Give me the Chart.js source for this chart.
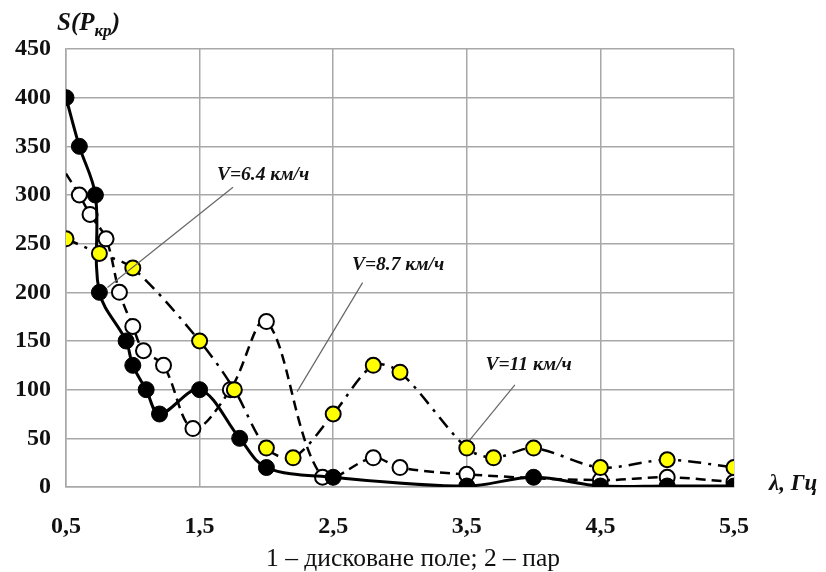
<!DOCTYPE html>
<html>
<head>
<meta charset="utf-8">
<script src="https://cdn.jsdelivr.net/npm/chart.js@4.4.0/dist/chart.umd.min.js"></script>
<style>
  body { margin: 0; background: #fff; }
  #wrap { position: relative; width: 826px; height: 572px; }
  .lbl { position: absolute; font-family: "Liberation Serif", serif; color: #111; white-space: nowrap; line-height: 1; }
</style>
</head>
<body>
<div id="wrap">
  <canvas id="chart"></canvas>
  <div class="lbl" style="left:57px; top:9px; font-size:25px; font-weight:bold; font-style:italic;">S(P<span style="font-size:17px; position:relative; top:6px;">кр</span>)</div>
  <div class="lbl" style="left:769px; top:471px; font-size:23px; font-weight:bold; font-style:italic;">λ, Гц</div>
  <div class="lbl" style="left:0; width:826px; text-align:center; top:545px; font-size:25.5px;">1 – дисковане поле; 2 – пар</div>
</div>
<script>
// 1 — black filled points, solid
const lambda1 = [0.5, 0.6, 0.72, 0.75, 0.95, 1.0, 1.1, 1.2, 1.5, 1.8, 2.0, 2.5, 3.5, 4.0, 4.5, 5.0, 5.5];
const s1 = [400, 350, 300, 200, 150, 125, 100, 75, 100, 50, 20, 10, 1, 10, 1, 1, 1];

// 2 — open points, dashed
const lambda2 = [0.5, 0.6, 0.68, 0.8, 0.9, 1.0, 1.08, 1.23, 1.45, 1.73, 2.0, 2.42, 2.8, 3.0, 3.5, 4.5, 5.0, 5.5];
const s2 = [322, 300, 280, 255, 200, 165, 140, 125, 60, 100, 170, 10, 30, 20, 13, 7, 10, 5];

// 3 — yellow points, dash-dot
const lambda3 = [0.5, 0.75, 1.0, 1.5, 1.76, 2.0, 2.2, 2.5, 2.8, 3.0, 3.5, 3.7, 4.0, 4.5, 5.0, 5.5];
const s3 = [255, 240, 225, 150, 100, 40, 30, 75, 125, 118, 40, 30, 40, 20, 28, 20];

const xTicks = [0.5, 1.5, 2.5, 3.5, 4.5, 5.5];
const yTicks = [0, 50, 100, 150, 200, 250, 300, 350, 400, 450];

// speed labels with leader lines (data coordinates)
const notes = [
  { text: "V=6.4 км/ч", tx: 1.63, ty: 321, from: [1.75, 308], to: [0.81, 205] },
  { text: "V=8.7 км/ч", tx: 2.64, ty: 228, from: [2.72, 210], to: [2.23, 98] },
  { text: "V=11 км/ч",  tx: 3.64, ty: 125, from: [3.86, 105], to: [3.52, 48] }
];

const pts = (xs, ys) => xs.map((x, i) => ({ x: x, y: ys[i] }));

const notePlugin = {
  id: "notes",
  afterDatasetsDraw(chart) {
    const { ctx, scales: { x, y } } = chart;
    ctx.save();
    notes.forEach(n => {
      ctx.strokeStyle = "#666";
      ctx.lineWidth = 1.2;
      ctx.beginPath();
      ctx.moveTo(x.getPixelForValue(n.from[0]), y.getPixelForValue(n.from[1]));
      ctx.lineTo(x.getPixelForValue(n.to[0]), y.getPixelForValue(n.to[1]));
      ctx.stroke();
      ctx.fillStyle = "#111";
      ctx.font = "bold italic 19.5px 'Liberation Serif'";
      ctx.textBaseline = "middle";
      ctx.textAlign = "left";
      ctx.fillText(n.text, x.getPixelForValue(n.tx), y.getPixelForValue(n.ty));
    });
    ctx.restore();
  }
};

const tickFont = { family: "'Liberation Serif'", size: 24, weight: "bold" };
const gridColor = "#a8a8a8";

new Chart(document.getElementById("chart"), {
  type: "line",
  data: {
    datasets: [
      {
        data: pts(lambda3, s3),
        borderColor: "#000",
        borderWidth: 2.5,
        borderDash: [13, 7, 3, 7],
        tension: 0.3,
        pointRadius: 7.5,
        pointBackgroundColor: "#ffff00",
        pointBorderColor: "#000",
        pointBorderWidth: 2
      },
      {
        data: pts(lambda1, s1),
        borderColor: "#000",
        borderWidth: 3,
        tension: 0.35,
        pointRadius: 8,
        pointBackgroundColor: "#000",
        pointBorderColor: "#000",
        pointBorderWidth: 1
      },
      {
        data: pts(lambda2, s2),
        borderColor: "#000",
        borderWidth: 2.5,
        borderDash: [10, 6],
        tension: 0.35,
        pointRadius: lambda2.map((v, i) => i === 0 ? 0 : 7.5),
        pointBackgroundColor: "#fff",
        pointBorderColor: "#000",
        pointBorderWidth: 2
      }
    ]
  },
  options: {
    responsive: true,
    maintainAspectRatio: false,
    animation: false,
    layout: { padding: { top: 49, right: 92, left: 0, bottom: 0 } },
    plugins: { legend: { display: false }, tooltip: { enabled: false } },
    scales: {
      x: {
        type: "linear",
        min: 0.5,
        max: 5.5,
        afterFit: s => { s.height = 85; },
        afterBuildTicks: s => { s.ticks = xTicks.map(v => ({ value: v })); },
        grid: { color: gridColor, lineWidth: 1.5, drawTicks: false },
        border: { color: gridColor, width: 1.5 },
        ticks: {
          padding: 25,
          color: "#111",
          font: tickFont,
          callback: v => String(v).replace(".", ",")
        }
      },
      y: {
        min: 0,
        max: 450,
        afterFit: s => { s.width = 66; },
        afterBuildTicks: s => { s.ticks = yTicks.map(v => ({ value: v })); },
        grid: { color: gridColor, lineWidth: 1.5, drawTicks: false },
        border: { color: gridColor, width: 1.5 },
        ticks: { padding: 15, color: "#111", font: tickFont }
      }
    }
  },
  plugins: [notePlugin]
});
</script>
</body>
</html>
